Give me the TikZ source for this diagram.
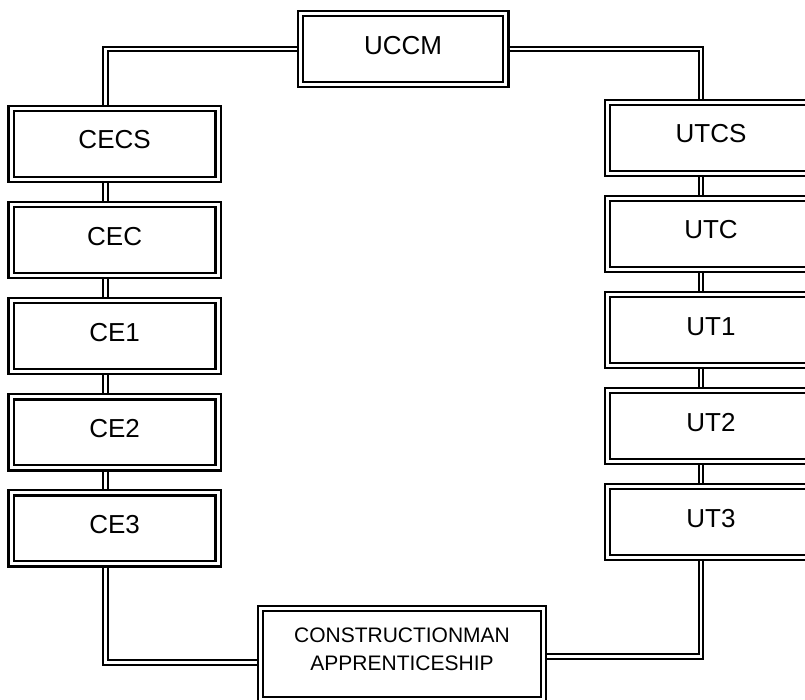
\documentclass[tikz,border=0pt]{standalone}
\usepackage{fontspec}
\setmainfont{Liberation Sans}
\begin{document}
\begin{tikzpicture}[x=1pt,y=-1pt,
  box/.style={draw, double, line width=2.2pt, double distance=3pt,
    minimum width=207pt, minimum height=71pt, outer sep=3.7pt, inner sep=0pt,
    font=\fontsize{26}{30}\selectfont, text height=18.6pt, text depth=8.6pt},
  conn/.style={draw, double, line width=2pt, double distance=2.6pt},
  small/.style={font=\fontsize{21}{27.5}\selectfont, align=center, inner sep=0pt}]
\useasboundingbox (0,0) rectangle (805,700);
\clip (0,0) rectangle (805,700);
% top
\node[box, minimum width=205.6pt] (UCCM) at (403,49.2) {UCCM};
% left column
\node[box] (CECS) at (114.6,144) {CECS};
\node[box] (CEC)  at (114.6,240.1) {CEC};
\node[box] (CE1)  at (114.6,336.2) {CE1};
\node[box] (CE2)  at (114.6,432.3) {CE2};
\node[box] (CE3)  at (114.6,528.4) {CE3};
% right column
\node[box] (UTCS) at (711,138) {UTCS};
\node[box] (UTC)  at (711,234) {UTC};
\node[box] (UT1)  at (711,330) {UT1};
\node[box] (UT2)  at (711,426) {UT2};
\node[box] (UT3)  at (711,522) {UT3};
% bottom
\node[box, minimum width=283pt, minimum height=91pt] (CONS) at (402,654) {};
\node[small] (CONStext) at ([yshift=4.5pt]CONS.center) {CONSTRUCTIONMAN\\APPRENTICESHIP};
% connectors
\draw[conn] (UCCM.west) -| ([xshift=-9.1pt]CECS.north);
\draw[conn] (UCCM.east) -| ([xshift=-10pt]UTCS.north);
\draw[conn] ([xshift=-9.1pt]CECS.south) -- ([xshift=-9.1pt]CEC.north);
\draw[conn] ([xshift=-9.1pt]CEC.south) -- ([xshift=-9.1pt]CE1.north);
\draw[conn] ([xshift=-9.1pt]CE1.south) -- ([xshift=-9.1pt]CE2.north);
\draw[conn] ([xshift=-9.1pt]CE2.south) -- ([xshift=-9.1pt]CE3.north);
\draw[conn] ([xshift=-10pt]UTCS.south) -- ([xshift=-10pt]UTC.north);
\draw[conn] ([xshift=-10pt]UTC.south) -- ([xshift=-10pt]UT1.north);
\draw[conn] ([xshift=-10pt]UT1.south) -- ([xshift=-10pt]UT2.north);
\draw[conn] ([xshift=-10pt]UT2.south) -- ([xshift=-10pt]UT3.north);
\draw[conn] ([xshift=-9.1pt]CE3.south) |- ([yshift=-8.5pt]CONS.west);
\draw[conn] ([yshift=-2.5pt]CONS.east) -| ([xshift=-10pt]UT3.south);
\end{tikzpicture}
\end{document}
